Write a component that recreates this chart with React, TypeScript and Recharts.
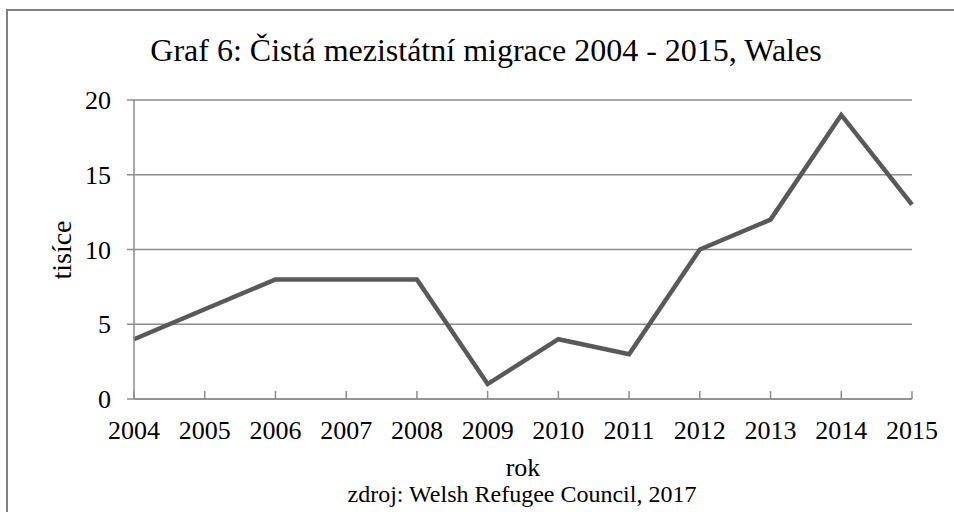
import React from 'react';
import { LineChart, Line, XAxis, YAxis, CartesianGrid } from 'recharts';

const years = ['2004', '2005', '2006', '2007', '2008', '2009', '2010', '2011', '2012', '2013', '2014', '2015'];
const migration = [4, 6, 8, 8, 8, 1, 4, 3, 10, 12, 19, 13];
const yTicks = [0, 5, 10, 15, 20];

const data = years.map((y, i) => ({ year: y, value: migration[i] }));

const FONT = '"Liberation Serif", "Times New Roman", serif';
const AXIS = '#8c8c8c';

const XTick = (props: any) => {
  const { x, y, payload } = props;
  return (
    <g>
      <line x1={x} y1={y - 8} x2={x} y2={y} stroke={AXIS} strokeWidth={1.5} />
      <text x={x} y={y + 40} textAnchor="middle" fontFamily={FONT} fontSize={26} fill="#000">
        {payload.value}
      </text>
    </g>
  );
};

export default function App() {
  return (
    <div style={{ position: 'absolute', left: 0, top: 0, width: 954, height: 512, background: '#fff', overflow: 'hidden' }}>
      <LineChart width={954} height={512} data={data} margin={{ top: 100, right: 42, bottom: 83, left: 0 }}>
        <CartesianGrid horizontal={true} vertical={false} stroke={AXIS} strokeWidth={1.5} />
        <XAxis
          dataKey="year"
          height={30}
          tickLine={false}
          tickSize={0}
          tickMargin={0}
          axisLine={{ stroke: AXIS, strokeWidth: 1.5 }}
          tick={<XTick />}
          interval={0}
        />
        <YAxis
          width={134}
          domain={[0, 20]}
          ticks={yTicks}
          interval={0}
          tickSize={7}
          tickMargin={16}
          axisLine={{ stroke: AXIS, strokeWidth: 1.5 }}
          tickLine={{ stroke: AXIS, strokeWidth: 1.5 }}
          tick={{ fill: '#000', fontSize: 26, fontFamily: FONT }}
        />
        <Line
          type="linear"
          dataKey="value"
          stroke="#595959"
          strokeWidth={4.5}
          dot={false}
          activeDot={false}
          isAnimationActive={false}
        />
      </LineChart>
      <svg width={954} height={512} style={{ position: 'absolute', left: 0, top: 0, pointerEvents: 'none' }}>
        <rect x={7} y={10} width={960} height={520} fill="none" stroke="#808080" strokeWidth={2} />
        <text x={486} y={61} textAnchor="middle" fontFamily={FONT} fontSize={32} fill="#000">
          Graf 6: Čistá mezistátní migrace 2004 - 2015, Wales
        </text>
        <text x={523} y={476} textAnchor="middle" fontFamily={FONT} fontSize={26} fill="#000">
          rok
        </text>
        <text x={522} y={502} textAnchor="middle" fontFamily={FONT} fontSize={24} fill="#000">
          zdroj: Welsh Refugee Council, 2017
        </text>
        <text
          x={0}
          y={0}
          transform="translate(71, 250) rotate(-90)"
          textAnchor="middle"
          fontFamily={FONT}
          fontSize={28}
          fill="#000"
        >
          tisíce
        </text>
      </svg>
    </div>
  );
}
